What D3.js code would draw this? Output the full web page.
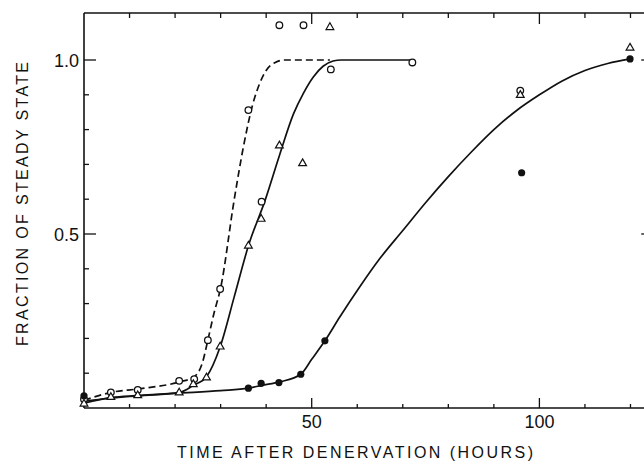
<!DOCTYPE html>
<html>
<head>
<meta charset="utf-8">
<script src="https://cdn.jsdelivr.net/npm/d3@7"></script>
<style>
  body { margin: 0; background: #fff; }
  svg { display: block; }
</style>
</head>
<body>
<div id="chart"></div>
<script>
// points: [hours, fraction of steady state]
const openCircles = [
  [0, 0.025], [5.9, 0.045], [11.8, 0.052], [20.9, 0.078], [24.2, 0.083],
  [27.2, 0.195], [29.9, 0.342], [36.1, 0.856], [39.0, 0.593], [42.9, 1.10],
  [48.2, 1.10], [54.2, 0.973], [72.1, 0.993], [95.8, 0.912]
];
const triangles = [
  [0, 0.012], [5.9, 0.031], [11.8, 0.036], [20.9, 0.044], [24.0, 0.068],
  [26.9, 0.087], [29.9, 0.176], [36.1, 0.466], [38.9, 0.543], [42.9, 0.754],
  [48.0, 0.703], [54.0, 1.094], [95.8, 0.899], [119.9, 1.035]
];
const filledCircles = [
  [0, 0.035], [36.1, 0.057], [38.9, 0.071], [42.8, 0.073], [47.6, 0.097],
  [52.9, 0.193], [96.1, 0.676], [119.9, 1.003]
];

// hand-drawn fitted curves
const dashedCurve = [
  [0, 0.022], [6, 0.045], [12, 0.055], [21, 0.075], [24, 0.088], [26, 0.13],
  [27.2, 0.195], [28.5, 0.27], [30, 0.345], [33, 0.6], [35, 0.75], [37, 0.87],
  [38.5, 0.93], [40, 0.97], [42, 0.993], [44, 1.0], [54, 1.0]
];
const triangleCurve = [
  [0, 0.014], [6, 0.03], [12, 0.036], [21, 0.045], [24, 0.065], [26.9, 0.09],
  [29.9, 0.176], [33, 0.32], [36.1, 0.466], [39.8, 0.598], [42.9, 0.725],
  [46, 0.845], [48.2, 0.905], [50.4, 0.952], [52.5, 0.982], [54.7, 0.997],
  [56.5, 1.0], [72.1, 1.0]
];
const filledCurve = [
  [0, 0.02], [10, 0.033], [20, 0.042], [30, 0.05], [36.1, 0.057], [39, 0.065],
  [43, 0.075], [47.6, 0.097], [50, 0.14], [52.9, 0.193], [56.2, 0.262],
  [60.6, 0.349], [65, 0.43], [70, 0.51], [75, 0.59], [80, 0.665], [85, 0.735],
  [90, 0.8], [95, 0.855], [100, 0.9], [105, 0.94], [110, 0.97], [115, 0.99],
  [120, 1.003]
];

const xMajor = [50, 100];
const yMajor = [0.5, 1.0];

const sizes = {width: 644, height: 466};
const plot = {left: 84, top: 13, bottom: 408};

const svg = d3.select("#chart").append("svg")
  .attr("width", sizes.width)
  .attr("height", sizes.height)
  .attr("viewBox", `0 0 ${sizes.width} ${sizes.height}`);

const x = d3.scaleLinear().domain([0, 125]).range([plot.left, plot.left + 125 * 4.554]);
const y = d3.scaleLinear().domain([0, 1]).range([plot.bottom, 60]);
const xRight = x(125);

const font = "'Liberation Sans', Arial, sans-serif";
const ink = "#111";

// frame: left, bottom, top and (off-canvas) right
const axisLine = (x1, y1, x2, y2) => svg.append("line")
  .attr("x1", x1).attr("y1", y1).attr("x2", x2).attr("y2", y2)
  .attr("stroke", ink).attr("stroke-width", 1.6);

axisLine(plot.left, plot.top, plot.left, plot.bottom);
axisLine(plot.left, plot.bottom, xRight, plot.bottom);
axisLine(plot.left, plot.top, xRight, plot.top);
axisLine(xRight, plot.top, xRight, plot.bottom);

// ticks, all pointing inward
const xTicks = d3.range(10, 121, 10);
xTicks.forEach(t => {
  const major = xMajor.includes(t);
  axisLine(x(t), plot.bottom, x(t), plot.bottom - (major ? 10 : 4)).attr("stroke-width", 1.3);
  axisLine(x(t), plot.top, x(t), plot.top + (major ? 11 : 5)).attr("stroke-width", 1.3);
});
const yTicks = d3.range(1, 11).map(d => d / 10);
yTicks.forEach(t => {
  const major = yMajor.some(m => Math.abs(m - t) < 1e-9);
  axisLine(plot.left, y(t), plot.left + (major ? 12 : 5), y(t)).attr("stroke-width", 1.3);
  axisLine(xRight, y(t), xRight - (major ? 12 : 5), y(t)).attr("stroke-width", 1.3);
});

// tick labels
svg.append("g").selectAll("text")
  .data(xMajor)
  .enter().append("text")
    .attr("x", d => x(d))
    .attr("y", 428)
    .attr("text-anchor", "middle")
    .style("font-family", font)
    .style("font-size", "18px")
    .style("fill", ink)
    .text(d => d);

svg.append("g").selectAll("text")
  .data(yMajor)
  .enter().append("text")
    .attr("x", 79)
    .attr("y", d => y(d) + 6.5)
    .attr("text-anchor", "end")
    .style("font-family", font)
    .style("font-size", "18px")
    .style("fill", ink)
    .text(d => d3.format(".1f")(d));

// axis titles
svg.append("text")
  .attr("x", 355)
  .attr("y", 458)
  .attr("text-anchor", "middle")
  .attr("textLength", 356)
  .attr("lengthAdjust", "spacing")
  .style("font-family", font)
  .style("font-size", "16px")
  .style("fill", ink)
  .text("TIME AFTER DENERVATION (HOURS)");

svg.append("text")
  .attr("transform", "translate(28,204) rotate(-90)")
  .attr("text-anchor", "middle")
  .attr("textLength", 284)
  .attr("lengthAdjust", "spacing")
  .style("font-family", font)
  .style("font-size", "16px")
  .style("fill", ink)
  .text("FRACTION OF STEADY STATE");

// curves
const line = d3.line()
  .curve(d3.curveMonotoneX)
  .x(d => x(d[0]))
  .y(d => y(d[1]));

svg.append("path")
  .attr("d", line(dashedCurve))
  .attr("fill", "none")
  .attr("stroke", ink)
  .attr("stroke-width", 1.7)
  .style("stroke-dasharray", "7 4");

[triangleCurve, filledCurve].forEach(c => {
  svg.append("path")
    .attr("d", line(c))
    .attr("fill", "none")
    .attr("stroke", ink)
    .attr("stroke-width", 1.7);
});

// markers
svg.append("g").selectAll("circle")
  .data(openCircles)
  .enter().append("circle")
    .attr("cx", d => x(d[0]))
    .attr("cy", d => y(d[1]))
    .attr("r", 3.3)
    .attr("fill", "#fff")
    .attr("stroke", ink)
    .attr("stroke-width", 1.3);

const tri = d3.symbol().type(d3.symbolTriangle).size(26);
svg.append("g").selectAll("path")
  .data(triangles)
  .enter().append("path")
    .attr("d", tri)
    .attr("transform", d => `translate(${x(d[0])},${y(d[1])})`)
    .attr("fill", "#fff")
    .attr("stroke", ink)
    .attr("stroke-width", 1.2);

svg.append("g").selectAll("circle")
  .data(filledCircles)
  .enter().append("circle")
    .attr("cx", d => x(d[0]))
    .attr("cy", d => y(d[1]))
    .attr("r", 3.6)
    .attr("fill", ink);
</script>
</body>
</html>
